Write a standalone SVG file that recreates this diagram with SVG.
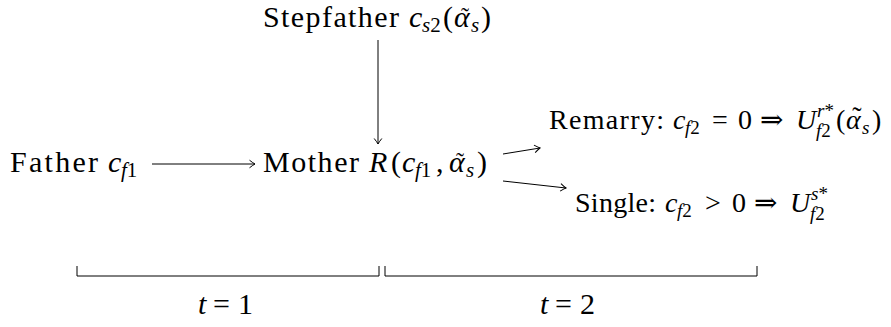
<svg xmlns="http://www.w3.org/2000/svg" width="891" height="327" viewBox="0 0 891 327">
<defs>
<marker id="ah" markerWidth="10" markerHeight="10" refX="0" refY="0" viewBox="-7 -5 8 10" orient="auto" markerUnits="userSpaceOnUse">
<path d="M-5.5,-3.8 Q-1.8,-0.9 0,0 Q-1.8,0.9 -5.5,3.8" fill="none" stroke="#000" stroke-width="1"/>
</marker>
</defs>
<style>
text{font-family:"Liberation Serif","DejaVu Serif",serif;font-size:30px;fill:#000}
.r text{font-size:28px}
.i{font-style:italic}
.s{font-size:21px}
.r .s{font-size:19px}
.t{font-size:24px}
.c{stroke:#000;stroke-width:1;fill:none}
.a{marker-end:url(#ah)}
</style>
<rect width="891" height="327" fill="#fff"/>
<g id="stepfather">
<text x="263" y="27" textLength="136" lengthAdjust="spacing">Stepfather</text>
<text x="409" y="27" class="i">c</text>
<text x="422" y="32" class="s"><tspan class="i">s</tspan>2</text>
<text x="443" y="27">(</text>
<text x="454" y="27" class="i">α</text>
<text x="465" y="24" class="t" text-anchor="middle">˜</text>
<text x="471" y="32" class="s i">s</text>
<text x="481" y="27">)</text>
</g>
<g id="father">
<text x="10" y="172" textLength="88" lengthAdjust="spacing">Father</text>
<text x="108" y="172" class="i">c</text>
<text x="121" y="177" class="s"><tspan class="i">f</tspan>1</text>
</g>
<g id="mother">
<text x="263" y="172" textLength="96" lengthAdjust="spacing">Mother</text>
<text x="369" y="172" class="i">R</text>
<text x="391" y="172">(</text>
<text x="402" y="172" class="i">c</text>
<text x="415" y="177" class="s"><tspan class="i">f</tspan>1</text>
<text x="436" y="172">,</text>
<text x="449" y="172" class="i">α</text>
<text x="460" y="169" class="t" text-anchor="middle">˜</text>
<text x="466" y="177" class="s i">s</text>
<text x="477" y="172">)</text>
</g>
<g id="remarry" class="r">
<text x="549" y="129" textLength="115" lengthAdjust="spacing">Remarry:</text>
<text x="673" y="129" class="i">c</text>
<text x="685" y="134" class="s"><tspan class="i">f</tspan>2</text>
<text x="712" y="129">=</text>
<text x="738" y="129">0</text>
<text x="760" y="129">⇒</text>
<text x="796" y="129" class="i">U</text>
<text x="817" y="117" class="s"><tspan class="i">r</tspan>*</text>
<text x="816" y="137" class="s"><tspan class="i">f</tspan>2</text>
<text x="836" y="129">(</text>
<text x="846" y="129" class="i">α</text>
<text x="857" y="126" class="t" text-anchor="middle">˜</text>
<text x="862" y="134" class="s i">s</text>
<text x="872" y="129">)</text>
</g>
<g id="single" class="r">
<text x="575" y="212" textLength="81" lengthAdjust="spacing">Single:</text>
<text x="665" y="212" class="i">c</text>
<text x="677" y="217" class="s"><tspan class="i">f</tspan>2</text>
<text x="705" y="212">&gt;</text>
<text x="732" y="212">0</text>
<text x="754" y="212">⇒</text>
<text x="790" y="212" class="i">U</text>
<text x="811" y="200" class="s"><tspan class="i">s</tspan>*</text>
<text x="810" y="220" class="s"><tspan class="i">f</tspan>2</text>
</g>
<g id="t1"><text x="198" y="314" class="i">t</text><text x="213" y="314">=</text><text x="238" y="314">1</text></g>
<g id="t2"><text x="540" y="314" class="i">t</text><text x="555" y="314">=</text><text x="580" y="314">2</text></g>
<g id="connectors">
<line class="c a" x1="378" y1="40" x2="378" y2="144"/>
<line class="c a" x1="152" y1="164" x2="255" y2="164"/>
<line class="c a" x1="503" y1="154" x2="540" y2="148"/>
<line class="c a" x1="503" y1="181" x2="566" y2="188"/>
<path class="c" d="M77,266 V276 H379 V266"/>
<path class="c" d="M385,266 V276 H757 V266"/>
</g>
</svg>
